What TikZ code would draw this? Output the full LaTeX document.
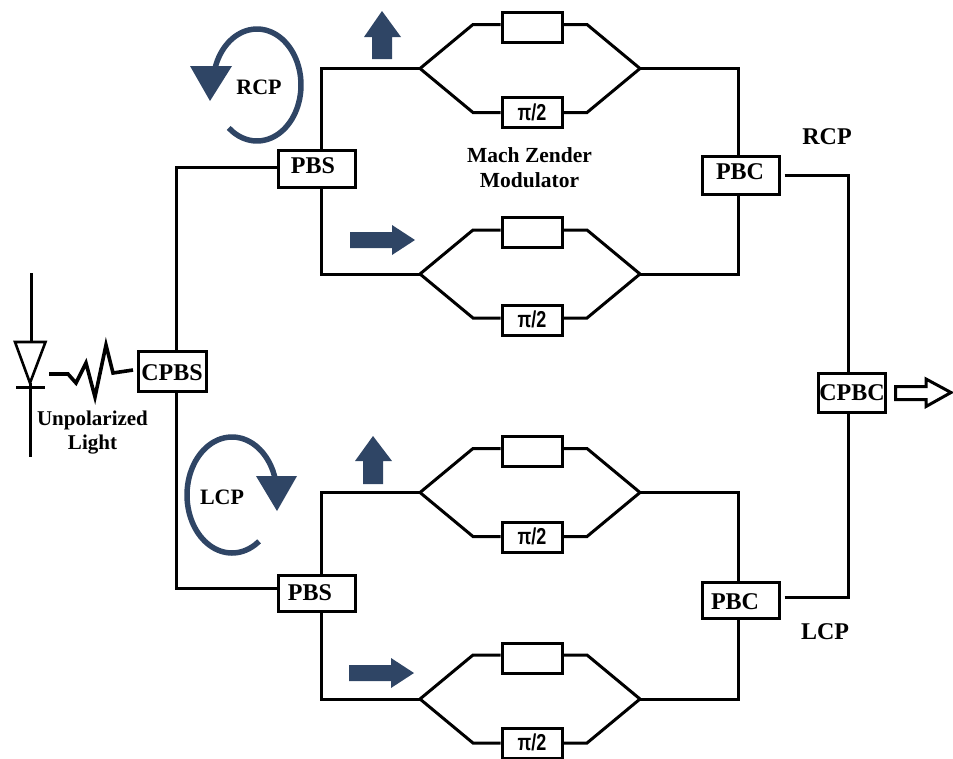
\documentclass[tikz,border=0pt]{standalone}
\usepackage{fontspec}
\usepackage{graphicx}
\setmainfont{Liberation Serif}
\newfontfamily\pifont{Liberation Sans}
\definecolor{navy}{HTML}{2F4565}
\newcommand{\boxtext}[3]{\raisebox{\dimexpr#2-0.33em\relax}[0pt][0pt]{\makebox[0pt]{\kern#1 #3}}}
\tikzset{
 x=1pt,y=-1pt,
 wire/.style={line width=3pt,line join=miter},
 box/.style 2 args={draw,line width=3pt,fill=white,minimum width=#1,minimum height=#2,inner sep=0pt,font=\bfseries\fontsize{24}{24}\selectfont},
 mbox/.style={draw,line width=3pt,fill=white,minimum width=60pt,minimum height=#1,inner sep=0pt,font=\pifont\bfseries\fontsize{23}{23}\selectfont},
 mbox/.default=30pt,
 lab/.style={font=\bfseries\fontsize{#1}{#1}\selectfont,align=center,inner sep=0pt},
 lab/.default=21.5,
 circ/.style={navy,line width=5.5pt},
}
\newcommand{\mzm}[4]{%
 \coordinate (#1L) at (420,#2);
 \coordinate (#1R) at (640,#2);
 \coordinate (#1a) at (473,#2-44);
 \coordinate (#1b) at (473,#2+44);
 \coordinate (#1c) at (587,#2-44);
 \coordinate (#1d) at (587,#2+44);
 \node[mbox] (#1T) at (532,#3) {};
 \node[mbox] (#1B) at (532,#4) {\boxtext{0pt}{0pt}{\scalebox{.78}[1]{π/2}}};
 \draw[wire] (#1L) -- (#1a) -- (#1T.west |- #1a);
 \draw[wire] (#1T.east |- #1c) -- (#1c) -- (#1R);
 \draw[wire] (#1L) -- (#1b) -- (#1B.west |- #1b);
 \draw[wire] (#1B.east |- #1d) -- (#1d) -- (#1R);
}
\begin{document}
\begin{tikzpicture}
\useasboundingbox (0,0) rectangle (953,758);
\mzm{a}{68.5}{27}{112.5}
\mzm{b}{274}{232}{320}
\mzm{c}{492.5}{451}{537}
\mzm{d}{699}{658}{743}

\node[box={77pt}{37pt}] (pbsa) at (316.5,168.5) {\boxtext{-7pt}{2.5pt}{PBS}};
\node[box={77pt}{36pt}] (pbsb) at (316.5,593) {\boxtext{-13pt}{0pt}{PBS}};
\node[box={77pt}{38pt}] (pbca) at (740.5,175) {\boxtext{-1pt}{3pt}{PBC}};
\node[box={77pt}{36pt}] (pbcb) at (740.5,600) {\boxtext{-11pt}{-2pt}{PBC}};
\node[box={68pt}{40pt}] (cpbs) at (172,371) {\boxtext{0pt}{-2pt}{CPBS}};
\node[box={67pt}{39pt}] (cpbc) at (851.5,392.5) {\boxtext{1pt}{0pt}{CPBC}};

\draw[wire] ([xshift=4pt]cpbs.north) |- ([yshift=1.5pt]pbsa.west);
\draw[wire] ([xshift=4pt]cpbs.south) |- ([yshift=5pt]pbsb.west);
\draw[wire] ([xshift=4.5pt]pbsa.north) |- (aL);
\draw[wire] ([xshift=4.5pt]pbsa.south) |- (bL);
\draw[wire] ([xshift=4.5pt]pbsb.north) |- (cL);
\draw[wire] ([xshift=4.5pt]pbsb.south) |- (dL);
\draw[wire] (aR) -| ([xshift=-2.5pt]pbca.north);
\draw[wire] (bR) -| ([xshift=-2.5pt]pbca.south);
\draw[wire] (cR) -| ([xshift=-2.5pt]pbcb.north);
\draw[wire] (dR) -| ([xshift=-2.5pt]pbcb.south);
\draw[wire] ([xshift=4pt]pbca.east) -| ([xshift=-3.5pt]cpbc.north);
\draw[wire] ([xshift=4pt,yshift=3pt]pbcb.east) -| ([xshift=-3.5pt]cpbc.south);

% output arrow
\draw[line width=3pt,fill=white,line join=miter] (895.5,386.5) -- (926,386.5) -- (926,379) -- (951,392.5) -- (926,406.5) -- (926,399.5) -- (895.5,399.5) -- cycle;

% photodiode
\draw[wire] (31,273) -- (31,342);
\draw[line width=2.6pt,line join=miter] (15,342) -- (45.5,342) -- (30,383) -- cycle;
\draw[wire] (16,387) -- (45,387);
\draw[wire] (30,383) -- (30,457);
% resistor
\draw[line width=3.6pt,line join=miter] (49,374) -- (68,374) -- (76,383) -- (86,363) -- (95,397) -- (106,345) -- (113,373) -- (133,370);
\node[lab=21] (ul) at (92.5,432.5) {Unpolarized\\[3.5pt]Light};

% circular arrows
\draw[circ] plot[smooth,domain=130:-170,samples=40] ({257+44*cos(\x)},{85+56*sin(\x)});
\fill[navy] (190,66) -- (232,66) -- (210,101) -- cycle;
\node[lab=22] (rcp) at (259,87) {RCP};
\draw[circ] plot[smooth,domain=53:342,samples=40] ({232+45*cos(\x)},{495+58*sin(\x)});
\fill[navy] (256,476) -- (297,476) -- (277,511) -- cycle;
\node[lab=22] (lcp) at (222,497) {LCP};

% block arrows
\fill[navy] (382,11) -- (401,37) -- (392,37) -- (392,59) -- (372,59) -- (372,37) -- (364,37) -- cycle;
\fill[navy] (373,436) -- (392,461) -- (383,461) -- (383,484) -- (363,484) -- (363,461) -- (355,461) -- cycle;
\fill[navy] (350,232) -- (392,232) -- (392,225) -- (415,240) -- (392,255) -- (392,248) -- (350,248) -- cycle;
\fill[navy] (349,665) -- (391,665) -- (391,658) -- (414,673) -- (391,688) -- (391,681) -- (349,681) -- cycle;

\node[lab] (mz) at (529.5,167.5) {Mach Zender\\[3.5pt]Modulator};
\node[lab=24] (rcpb) at (827,136.5) {RCP};
\node[lab=24] (lcpb) at (825,632) {LCP};
\end{tikzpicture}
\end{document}
